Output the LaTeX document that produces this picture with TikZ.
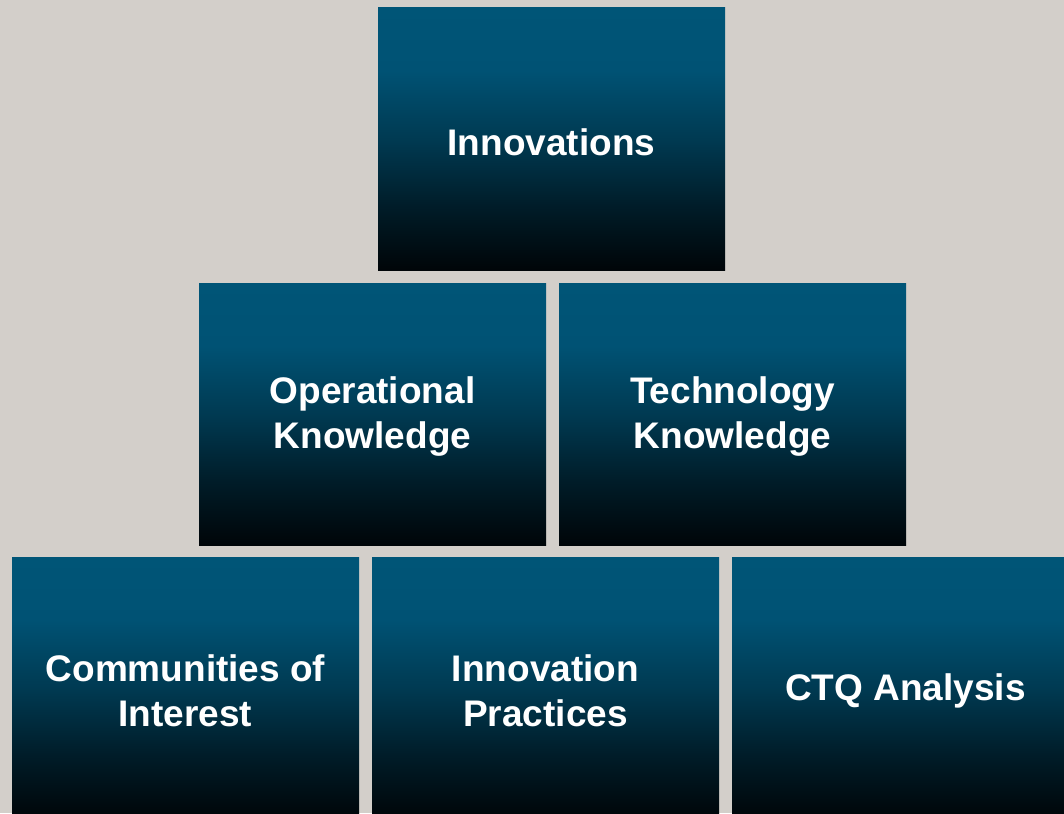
\documentclass[tikz,border=0pt]{standalone}
\usepackage{fontspec}
\setmainfont{Liberation Sans}
\definecolor{bg}{HTML}{D3CFCA}
\definecolor{boxtop}{HTML}{005577}
\definecolor{boxhi}{HTML}{005274}
\definecolor{boxmid}{HTML}{003A52}
\definecolor{boxlow}{HTML}{001C28}
\definecolor{boxbot}{HTML}{000508}
\pgfdeclareverticalshading{boxshade}{100bp}{color(0bp)=(boxbot); color(25bp)=(boxbot); color(37bp)=(boxlow); color(50bp)=(boxmid); color(63bp)=(boxhi); color(75bp)=(boxtop); color(100bp)=(boxtop)}
\tikzset{
  tile/.style={anchor=north west, inner sep=0pt, outer sep=0pt,
    minimum width=347pt, minimum height=262pt, shading=boxshade},
  lbl/.style={text=white, align=center, inner sep=0pt, yshift=-3pt,
    font=\fontsize{37}{45}\selectfont\bfseries}
}
\begin{document}
\begin{tikzpicture}[x=1pt,y=-1pt]
\fill[bg] (0,0) rectangle (1064,813);
\useasboundingbox (0,0) rectangle (1064,813);
\clip (0,0) rectangle (1064,813);
\node[tile, label={[lbl]center:Innovations}] (innov) at (378,8) {};
\node[tile, label={[lbl]center:Operational\\Knowledge}] (opk) at (199,283) {};
\node[tile, label={[lbl]center:Technology\\Knowledge}] (tek) at (559,283) {};
\node[tile, label={[lbl]center:Communities of\\Interest}] (coi) at (12,557) {};
\node[tile, label={[lbl]center:Innovation\\Practices}] (inp) at (372,557) {};
\node[tile, label={[lbl]center:CTQ Analysis}] (ctq) at (732,557) {};
\end{tikzpicture}
\end{document}
